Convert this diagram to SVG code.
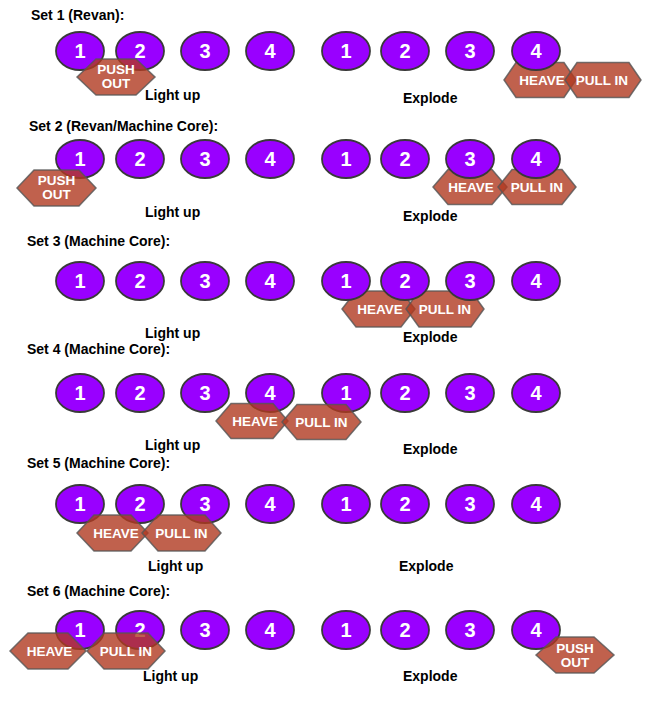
<svg xmlns="http://www.w3.org/2000/svg" width="666" height="702" viewBox="0 0 666 702">
<style>
  .bg { fill: #ffffff; }
  .hdr { font-family: "Liberation Sans", Arial, sans-serif; font-size: 14px; font-weight: bold; fill: #000000; }
  .lbl { font-family: "Liberation Sans", Arial, sans-serif; font-size: 14px; font-weight: bold; fill: #000000; }
  .ell { fill: #9900FF; stroke: #3a3a3a; stroke-width: 1.8; }
  .num { font-family: "Liberation Sans", Arial, sans-serif; font-size: 20px; font-weight: bold; fill: #ffffff; text-anchor: middle; }
  .hex { fill: #B03A20; fill-opacity: 0.8; stroke: #555555; stroke-opacity: 0.8; stroke-width: 1.5; }
  .ht { font-family: "Liberation Sans", Arial, sans-serif; font-size: 13.5px; font-weight: bold; fill: #ffffff; text-anchor: middle; }
</style>
<rect class="bg" x="0" y="0" width="666" height="702"/>
<g id="connectors"></g>

<!-- Set 1 -->
<g id="set1">
  <text class="hdr" x="31" y="20">Set 1 (Revan):</text>
  <g id="s1-heave"><polygon class="hex" points="504,80 516,62.5 564,62.5 576,80 564,97.5 516,97.5"/><text class="ht" x="542" y="85">HEAVE</text></g>
  <g id="s1-pullin"><polygon class="hex" points="565,80 577,62.5 629,62.5 641,80 629,97.5 577,97.5"/><text class="ht" x="602" y="85">PULL IN</text></g>
  <g id="s1-l1"><ellipse class="ell" cx="80" cy="51" rx="24" ry="19"/><text class="num" x="80" y="58">1</text></g>
  <g id="s1-l2"><ellipse class="ell" cx="140" cy="51" rx="24" ry="19"/><text class="num" x="140" y="58">2</text></g>
  <g id="s1-l3"><ellipse class="ell" cx="205" cy="51" rx="24" ry="19"/><text class="num" x="205" y="58">3</text></g>
  <g id="s1-l4"><ellipse class="ell" cx="270" cy="51" rx="24" ry="19"/><text class="num" x="270" y="58">4</text></g>
  <g id="s1-r1"><ellipse class="ell" cx="346" cy="51" rx="24" ry="19"/><text class="num" x="346" y="58">1</text></g>
  <g id="s1-r2"><ellipse class="ell" cx="405" cy="51" rx="24" ry="19"/><text class="num" x="405" y="58">2</text></g>
  <g id="s1-r3"><ellipse class="ell" cx="470" cy="51" rx="24" ry="19"/><text class="num" x="470" y="58">3</text></g>
  <g id="s1-r4"><ellipse class="ell" cx="536" cy="51" rx="24" ry="19"/><text class="num" x="536" y="58">4</text></g>
  <g id="s1-pushout"><polygon class="hex" points="77,77 96,59 136,59 155,77 136,95 96,95"/><text class="ht" x="116" y="74">PUSH</text><text class="ht" x="116" y="88">OUT</text></g>
  <text class="lbl" x="145" y="100">Light up</text>
  <text class="lbl" x="403" y="103">Explode</text>
</g>

<!-- Set 2 -->
<g id="set2">
  <text class="hdr" x="29" y="131">Set 2 (Revan/Machine Core):</text>
  <g id="s2-heave"><polygon class="hex" points="433,187 448,169.5 492,169.5 507,187 492,204.5 448,204.5"/><text class="ht" x="471" y="192">HEAVE</text></g>
  <g id="s2-pullin"><polygon class="hex" points="498,187 512,169.5 562,169.5 576,187 562,204.5 512,204.5"/><text class="ht" x="537" y="192">PULL IN</text></g>
  <g id="s2-l1"><ellipse class="ell" cx="80" cy="159" rx="24" ry="19"/><text class="num" x="80" y="166">1</text></g>
  <g id="s2-l2"><ellipse class="ell" cx="140" cy="159" rx="24" ry="19"/><text class="num" x="140" y="166">2</text></g>
  <g id="s2-l3"><ellipse class="ell" cx="205" cy="159" rx="24" ry="19"/><text class="num" x="205" y="166">3</text></g>
  <g id="s2-l4"><ellipse class="ell" cx="270" cy="159" rx="24" ry="19"/><text class="num" x="270" y="166">4</text></g>
  <g id="s2-r1"><ellipse class="ell" cx="346" cy="159" rx="24" ry="19"/><text class="num" x="346" y="166">1</text></g>
  <g id="s2-r2"><ellipse class="ell" cx="405" cy="159" rx="24" ry="19"/><text class="num" x="405" y="166">2</text></g>
  <g id="s2-r3"><ellipse class="ell" cx="470" cy="159" rx="24" ry="19"/><text class="num" x="470" y="166">3</text></g>
  <g id="s2-r4"><ellipse class="ell" cx="536" cy="159" rx="24" ry="19"/><text class="num" x="536" y="166">4</text></g>
  <g id="s2-pushout"><polygon class="hex" points="17,188 34,170 79,170 96,188 79,206 34,206"/><text class="ht" x="56.5" y="185">PUSH</text><text class="ht" x="56.5" y="199">OUT</text></g>
  <text class="lbl" x="145" y="217">Light up</text>
  <text class="lbl" x="403" y="221">Explode</text>
</g>

<!-- Set 3 -->
<g id="set3">
  <text class="hdr" x="27" y="246">Set 3 (Machine Core):</text>
  <g id="s3-heave"><polygon class="hex" points="342,309 356,291 401,291 415,309 401,327 356,327"/><text class="ht" x="380" y="314">HEAVE</text></g>
  <g id="s3-pullin"><polygon class="hex" points="406,309 419,291 471,291 484,309 471,327 419,327"/><text class="ht" x="445" y="314">PULL IN</text></g>
  <g id="s3-l1"><ellipse class="ell" cx="80" cy="281" rx="24" ry="19"/><text class="num" x="80" y="288">1</text></g>
  <g id="s3-l2"><ellipse class="ell" cx="140" cy="281" rx="24" ry="19"/><text class="num" x="140" y="288">2</text></g>
  <g id="s3-l3"><ellipse class="ell" cx="205" cy="281" rx="24" ry="19"/><text class="num" x="205" y="288">3</text></g>
  <g id="s3-l4"><ellipse class="ell" cx="270" cy="281" rx="24" ry="19"/><text class="num" x="270" y="288">4</text></g>
  <g id="s3-r1"><ellipse class="ell" cx="346" cy="281" rx="24" ry="19"/><text class="num" x="346" y="288">1</text></g>
  <g id="s3-r2"><ellipse class="ell" cx="405" cy="281" rx="24" ry="19"/><text class="num" x="405" y="288">2</text></g>
  <g id="s3-r3"><ellipse class="ell" cx="470" cy="281" rx="24" ry="19"/><text class="num" x="470" y="288">3</text></g>
  <g id="s3-r4"><ellipse class="ell" cx="536" cy="281" rx="24" ry="19"/><text class="num" x="536" y="288">4</text></g>
  <text class="lbl" x="145" y="338">Light up</text>
  <text class="lbl" x="403" y="342">Explode</text>
</g>

<!-- Set 4 -->
<g id="set4">
  <text class="hdr" x="27" y="354">Set 4 (Machine Core):</text>
  <g id="s4-l1"><ellipse class="ell" cx="80" cy="393" rx="24" ry="19"/><text class="num" x="80" y="400">1</text></g>
  <g id="s4-l2"><ellipse class="ell" cx="140" cy="393" rx="24" ry="19"/><text class="num" x="140" y="400">2</text></g>
  <g id="s4-l3"><ellipse class="ell" cx="205" cy="393" rx="24" ry="19"/><text class="num" x="205" y="400">3</text></g>
  <g id="s4-l4"><ellipse class="ell" cx="270" cy="393" rx="24" ry="19"/><text class="num" x="270" y="400">4</text></g>
  <g id="s4-r1"><ellipse class="ell" cx="346" cy="393" rx="24" ry="19"/><text class="num" x="346" y="400">1</text></g>
  <g id="s4-r2"><ellipse class="ell" cx="405" cy="393" rx="24" ry="19"/><text class="num" x="405" y="400">2</text></g>
  <g id="s4-r3"><ellipse class="ell" cx="470" cy="393" rx="24" ry="19"/><text class="num" x="470" y="400">3</text></g>
  <g id="s4-r4"><ellipse class="ell" cx="536" cy="393" rx="24" ry="19"/><text class="num" x="536" y="400">4</text></g>
  <g id="s4-heave"><polygon class="hex" points="216,421 231,403.5 273,403.5 288,421 273,438.5 231,438.5"/><text class="ht" x="255" y="426">HEAVE</text></g>
  <g id="s4-pullin"><polygon class="hex" points="282,422 297,404.5 346,404.5 361,422 346,439.5 297,439.5"/><text class="ht" x="321.5" y="427">PULL IN</text></g>
  <text class="lbl" x="145" y="450">Light up</text>
  <text class="lbl" x="403" y="454">Explode</text>
</g>

<!-- Set 5 -->
<g id="set5">
  <text class="hdr" x="27" y="468">Set 5 (Machine Core):</text>
  <g id="s5-l1"><ellipse class="ell" cx="80" cy="504" rx="24" ry="19"/><text class="num" x="80" y="511">1</text></g>
  <g id="s5-l2"><ellipse class="ell" cx="140" cy="504" rx="24" ry="19"/><text class="num" x="140" y="511">2</text></g>
  <g id="s5-l3"><ellipse class="ell" cx="205" cy="504" rx="24" ry="19"/><text class="num" x="205" y="511">3</text></g>
  <g id="s5-l4"><ellipse class="ell" cx="270" cy="504" rx="24" ry="19"/><text class="num" x="270" y="511">4</text></g>
  <g id="s5-r1"><ellipse class="ell" cx="346" cy="504" rx="24" ry="19"/><text class="num" x="346" y="511">1</text></g>
  <g id="s5-r2"><ellipse class="ell" cx="405" cy="504" rx="24" ry="19"/><text class="num" x="405" y="511">2</text></g>
  <g id="s5-r3"><ellipse class="ell" cx="470" cy="504" rx="24" ry="19"/><text class="num" x="470" y="511">3</text></g>
  <g id="s5-r4"><ellipse class="ell" cx="536" cy="504" rx="24" ry="19"/><text class="num" x="536" y="511">4</text></g>
  <g id="s5-heave"><polygon class="hex" points="77,533 94,515 131,515 148,533 131,551 94,551"/><text class="ht" x="116" y="538">HEAVE</text></g>
  <g id="s5-pullin"><polygon class="hex" points="142,533 158,515 205,515 221,533 205,551 158,551"/><text class="ht" x="181.5" y="538">PULL IN</text></g>
  <text class="lbl" x="148" y="571">Light up</text>
  <text class="lbl" x="399" y="571">Explode</text>
</g>

<!-- Set 6 -->
<g id="set6">
  <text class="hdr" x="27" y="596">Set 6 (Machine Core):</text>
  <g id="s6-l1"><ellipse class="ell" cx="80" cy="630" rx="24" ry="19"/><text class="num" x="80" y="637">1</text></g>
  <g id="s6-l2"><ellipse class="ell" cx="140" cy="630" rx="24" ry="19"/><text class="num" x="140" y="637">2</text></g>
  <g id="s6-l3"><ellipse class="ell" cx="205" cy="630" rx="24" ry="19"/><text class="num" x="205" y="637">3</text></g>
  <g id="s6-l4"><ellipse class="ell" cx="270" cy="630" rx="24" ry="19"/><text class="num" x="270" y="637">4</text></g>
  <g id="s6-r1"><ellipse class="ell" cx="346" cy="630" rx="24" ry="19"/><text class="num" x="346" y="637">1</text></g>
  <g id="s6-r2"><ellipse class="ell" cx="405" cy="630" rx="24" ry="19"/><text class="num" x="405" y="637">2</text></g>
  <g id="s6-r3"><ellipse class="ell" cx="470" cy="630" rx="24" ry="19"/><text class="num" x="470" y="637">3</text></g>
  <g id="s6-r4"><ellipse class="ell" cx="536" cy="630" rx="24" ry="19"/><text class="num" x="536" y="637">4</text></g>
  <g id="s6-heave"><polygon class="hex" points="10,651 28,633 68,633 86,651 68,669 28,669"/><text class="ht" x="49.5" y="656">HEAVE</text></g>
  <g id="s6-pullin"><polygon class="hex" points="87,651 104,633 148,633 165,651 148,669 104,669"/><text class="ht" x="126" y="656">PULL IN</text></g>
  <g id="s6-pushout"><polygon class="hex" points="536,655 556,637 594,637 614,655 594,673 556,673"/><text class="ht" x="575" y="653">PUSH</text><text class="ht" x="575" y="667">OUT</text></g>
  <text class="lbl" x="143" y="681">Light up</text>
  <text class="lbl" x="403" y="681">Explode</text>
</g>
</svg>
